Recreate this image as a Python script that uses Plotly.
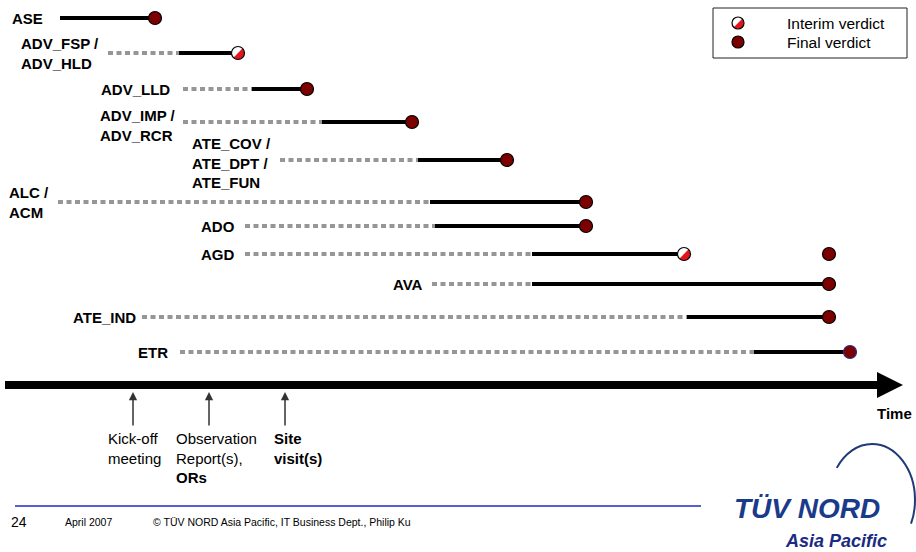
import plotly.graph_objects as go

# ---- data -----------------------------------------------------------------
# Evaluation work packages, top to bottom
ROWS = ["ASE", "ADV_FSP /<br>ADV_HLD", "ADV_LLD", "ADV_IMP /<br>ADV_RCR",
        "ATE_COV /<br>ATE_DPT /<br>ATE_FUN", "ALC /<br>ACM", "ADO", "AGD",
        "AVA", "ATE_IND", "ETR"]
# time units along the project axis
PREP_START = [None, 108, 183, 183, 280, 58, 245, 245, 432, 142, 180]
EVAL_START = [60, 179, 252, 322, 418, 430, 435, 532, 532, 687, 754]
VERDICT_AT = [155, 238, 307, 412, 507, 586, 586, 684, 829, 829, 850]
VERDICT_KIND = ["final", "interim", "final", "final", "final", "final",
                "final", "interim", "final", "final", "final"]
LATER_FINAL = {"AGD": 829}

MILESTONES = ["Kick-off<br>meeting", "Observation<br>Report(s),<br><b>ORs</b>",
              "<b>Site<br>visit(s)</b>"]
MILESTONE_AT = [133, 209, 285]

FOOTER = ["24", "April 2007", "© TÜV NORD Asia Pacific, IT Business Dept., Philip Ku"]

# ---- layout helpers ---------------------------------------------------------
ROW_Y = [18, 53, 89, 122, 160, 202, 226, 254, 284, 317, 352]
LABEL_NUDGE = {"ADV_IMP /<br>ADV_RCR": 3, "ATE_COV /<br>ATE_DPT /<br>ATE_FUN": 3}
LABEL_GAP = {"ASE": 15, "ADV_LLD": 11, "ADV_IMP /<br>ADV_RCR": 5, "ETR": 10,
             "ATE_IND": 4, "ADO": 8, "AGD": 8}
MILESTONE_TEXT_SHIFT = [-27, -35, -13]

FONT = "Liberation Sans, Arial, sans-serif"
MAROON = "#7d0000"
R = 6.5

fig = go.Figure()
shapes = []
annotations = []


def half_disk(r):
    """Lower-right half of a disk, in pixels relative to its centre (y up)."""
    c = 0.70710678
    k = 0.5523 * r * c
    p0 = (r * c, r * c)
    p3 = (r * c, -r * c)
    p6 = (-r * c, -r * c)
    p1 = (p0[0] + k, p0[1] - k)
    p2 = (p3[0] + k, p3[1] + k)
    p4 = (p3[0] - k, p3[1] - k)
    p5 = (p6[0] + k, p6[1] - k)
    f = lambda p: f"{p[0]:.2f},{p[1]:.2f}"
    return (f"M{f(p0)} C{f(p1)} {f(p2)} {f(p3)} "
            f"C{f(p4)} {f(p5)} {f(p6)} Z")


def interim_marker(x, y, r=R):
    base = dict(xref="x", yref="y", xsizemode="pixel", ysizemode="pixel",
                xanchor=x, yanchor=y, layer="above")
    return [
        dict(type="circle", x0=-r, x1=r, y0=-r, y1=r, fillcolor="white",
             line=dict(color="black", width=0), **base),
        dict(type="path", path=half_disk(r - 0.3), fillcolor="#e3141c",
             line=dict(width=0), **base),
        dict(type="circle", x0=-r, x1=r, y0=-r, y1=r,
             fillcolor="rgba(0,0,0,0)", line=dict(color="black", width=1.2),
             **base),
    ]


# ---- preparation (dashed) and evaluation (solid) bars ----------------------
dx, dy, sx, sy = [], [], [], []
fx, fy, fline = [], [], []
for name, y, p, e, v, kind in zip(ROWS, ROW_Y, PREP_START, EVAL_START,
                                  VERDICT_AT, VERDICT_KIND):
    if p is not None:
        dx += [p, e, None]
        dy += [y, y, None]
    sx += [e, v, None]
    sy += [y, y, None]
    if kind == "final":
        fx.append(v)
        fy.append(y)
        fline.append("#2b2b8c" if name == "ETR" else "black")
    else:
        shapes += interim_marker(v, y)
    if name in LATER_FINAL:
        fx.append(LATER_FINAL[name])
        fy.append(y)
        fline.append("black")
    start = p if p is not None else e
    annotations.append(dict(
        x=start - LABEL_GAP.get(name, 7), y=y + LABEL_NUDGE.get(name, 0),
        xref="x", yref="y", xanchor="right", yanchor="middle", align="left",
        text=f"<b>{name}</b>", showarrow=False,
        font=dict(family=FONT, size=15, color="black")))

fig.add_trace(go.Scatter(x=dx, y=dy, mode="lines", hoverinfo="skip",
                         line=dict(color="#969696", width=4, dash="5px,3.5px")))
fig.add_trace(go.Scatter(x=sx, y=sy, mode="lines", hoverinfo="skip",
                         line=dict(color="black", width=4)))
fig.add_trace(go.Scatter(x=fx, y=fy, mode="markers", hoverinfo="skip",
                         marker=dict(size=13, color=MAROON,
                                     line=dict(color=fline, width=1.2))))

# ---- legend box -------------------------------------------------------------
shapes.append(dict(type="rect", xref="x", yref="y", x0=713, x1=907, y0=8, y1=58,
                   line=dict(color="#222", width=1), fillcolor="white",
                   layer="below"))
shapes += interim_marker(738, 23, 6)
fig.add_trace(go.Scatter(x=[738], y=[42], mode="markers", hoverinfo="skip",
                         marker=dict(size=12, color=MAROON,
                                     line=dict(color="black", width=1.2))))
for txt, yy in [("Interim verdict", 23), ("Final verdict", 42)]:
    annotations.append(dict(x=785, y=yy, xref="x", yref="y", xanchor="left",
                            yanchor="middle", text=txt, showarrow=False,
                            font=dict(family=FONT, size=15.5, color="black")))

# ---- time axis with milestones --------------------------------------------
shapes.append(dict(type="line", xref="x", yref="y", x0=5, x1=880, y0=385,
                   y1=385, line=dict(color="black", width=8)))
shapes.append(dict(type="path", xref="x", yref="y",
                   path="M877,372 L903,385 L877,398 Z", fillcolor="black",
                   line=dict(width=0)))
annotations.append(dict(x=894, y=413, xref="x", yref="y", text="<b>Time</b>",
                        showarrow=False,
                        font=dict(family=FONT, size=15, color="black")))
for txt, t, shift in zip(MILESTONES, MILESTONE_AT, MILESTONE_TEXT_SHIFT):
    annotations.append(dict(x=t, y=392, ax=t, ay=427, xref="x", yref="y",
                            axref="x", ayref="y", text="", showarrow=True,
                            arrowhead=2, arrowsize=1.1, arrowwidth=1.5,
                            arrowcolor="#333"))
    annotations.append(dict(x=t + shift, y=428, xref="x", yref="y",
                            xanchor="left", yanchor="top", align="left",
                            text=txt, showarrow=False,
                            font=dict(family=FONT, size=15, color="black")))

# ---- footer -----------------------------------------------------------------
shapes.append(dict(type="line", xref="x", yref="y", x0=15, x1=701, y0=506,
                   y1=506, line=dict(color="#5c5cd8", width=2)))
for txt, xx, size in zip(FOOTER, [9, 63, 151], [14, 10.5, 10.5]):
    annotations.append(dict(x=xx, y=522, xref="x", yref="y", xanchor="left",
                            yanchor="middle", text=txt, showarrow=False,
                            font=dict(family=FONT, size=size, color="black")))

# company logo
shapes.append(dict(type="path", xref="x", yref="y",
                   path=("M836.8,467.9 C844.8,452.9 858,444 872,444 "
                         "C895.7,444 915,469.1 915,500 "
                         "C915,510 913.5,517 911,523.7"),
                   line=dict(color="#1f3a78", width=2)))
annotations.append(dict(x=732, y=508, xref="x", yref="y", xanchor="left",
                        yanchor="middle", text="<b><i>TÜV NORD</i></b>",
                        showarrow=False,
                        font=dict(family=FONT, size=28, color="#1a3a8a")))
annotations.append(dict(x=783, y=541, xref="x", yref="y", xanchor="left",
                        yanchor="middle", text="<b><i>Asia Pacific</i></b>",
                        showarrow=False,
                        font=dict(family=FONT, size=18, color="#1b2a82")))

fig.update_layout(
    width=916, height=552,
    margin=dict(l=0, r=0, t=0, b=0),
    paper_bgcolor="white", plot_bgcolor="white",
    showlegend=False,
    xaxis=dict(range=[0, 916], visible=False, fixedrange=True),
    yaxis=dict(range=[552, 0], visible=False, fixedrange=True),
    shapes=shapes, annotations=annotations,
)

fig.write_html("out.html", config={"displayModeBar": False})
